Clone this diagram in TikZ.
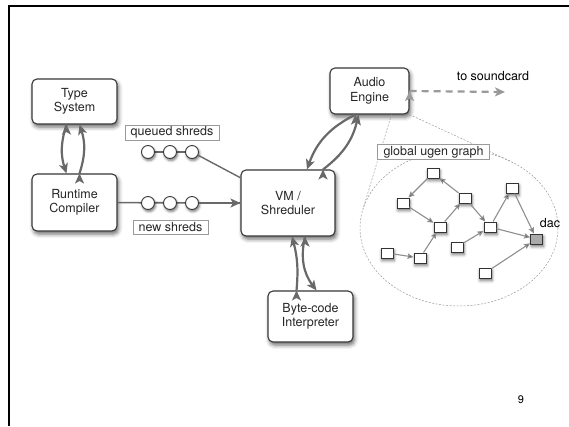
\documentclass[tikz,border=0pt]{standalone}
\usepackage{fontspec}
\setmainfont{TeX Gyre Heros}
\usetikzlibrary{arrows.meta,shadows.blur}

\definecolor{boxline}{HTML}{383838}
\definecolor{flowgray}{HTML}{696969}
\definecolor{ugengray}{HTML}{8E8E8E}
\definecolor{callgray}{HTML}{9A9A9A}
\definecolor{dacgray}{HTML}{AAAAAA}

\tikzset{
  unit/.style={draw=boxline, line width=1.1pt, fill=white, rounded corners=5pt,
    align=center, inner sep=0pt, text=black!85,
    blur shadow={shadow xshift=1.5pt, shadow yshift=-3pt, shadow opacity=60, shadow blur radius=4pt}},
  tag/.style={draw=callgray, line width=0.9pt, fill=white, inner sep=0pt, text=black!85},
  shred/.style={circle, draw=boxline, line width=0.9pt, fill=white, minimum size=13pt, inner sep=0pt,
    blur shadow={shadow xshift=1pt, shadow yshift=-2pt, shadow opacity=55, shadow blur radius=2.5pt}},
  ugen/.style={draw=black!80, line width=1pt, fill=white, minimum width=12pt, minimum height=10pt, inner sep=0pt,
    blur shadow={shadow xshift=1pt, shadow yshift=-2.5pt, shadow opacity=55, shadow blur radius=3pt}},
  flow/.style={draw=flowgray, line width=2.2pt, -{Stealth[length=10pt,width=9pt,inset=2.5pt]}},
  ugenflow/.style={draw=ugengray, line width=1.1pt, -{Stealth[length=6pt,width=5.5pt,inset=1pt]}},
  callout/.style={draw=callgray, line width=0.5pt, dash pattern=on 2pt off 1.5pt},
}

\begin{document}
\begin{tikzpicture}[x=1pt, y=-1pt, font=\fontsize{12.5}{14.5}\selectfont]
\useasboundingbox (0,0) rectangle (569,426);
% slide frame
\draw[line width=2.4pt] (8.7,426) -- (8.7,6.2) -- (569,6.2);

% main units
\node[unit, minimum width=85pt, minimum height=45pt] (ts) at (74.5,101.5) {Type\\System};
\node[unit, minimum width=85pt, minimum height=57pt] (rc) at (74.5,202.5) {Runtime\\Compiler};
\node[unit, minimum width=94pt, minimum height=66pt] (vm) at (288,203) {VM /\\Shreduler};
\node[unit, minimum width=79pt, minimum height=46pt] (ae) at (369.5,91) {Audio\\Engine};
\node[unit, minimum width=85pt, minimum height=51pt] (bc) at (310.5,316.5) {Byte-code\\Interpreter};

% global ugen graph
\draw[callout] (459,228) ellipse [x radius=99, y radius=78];
\coordinate (tanl) at (363,209);
\coordinate (tanr) at (510,161);
\draw[callout] ([xshift=22pt]ae.south) -- (tanl);
\draw[callout] (ae.south east) -- (tanr);
\node[tag, minimum width=112pt, minimum height=15pt] (ugl) at (433.5,152) {global ugen graph};

\begin{scope}[every node/.style={ugen}]
  \node (g1) at (433,173) {};
  \node (g2) at (403,203) {};
  \node (g3) at (465,198) {};
  \node (g4) at (440,227) {};
  \node (g5) at (512,188) {};
  \node (g6) at (490,227) {};
  \node (g7) at (387,253) {};
  \node (g8) at (420,258) {};
  \node (g9) at (457,247) {};
  \node (g10) at (485,273) {};
  \node[fill=dacgray] (dac) at (536.5,239) {};
\end{scope}
\node (dacl) at (550,223) {dac};
\path [ugenflow] (g1) edge (g2);
\path [ugenflow] (g3) edge (g1);
\path [ugenflow] (g2) edge (g4);
\path [ugenflow] (g4) edge (g3);
\path [ugenflow] (g3) edge (g6);
\path [ugenflow] (g6) edge (g5);
\path [ugenflow] (g5) edge (dac);
\path [ugenflow] (g6) edge (dac);
\path [ugenflow] (g9) edge (g6);
\path [ugenflow] (g7) edge (g8);
\path [ugenflow] (g8) edge (g4);
\path [ugenflow] (g10) edge (dac);

% shreds
\node[tag, minimum width=94pt, minimum height=15pt] (ql) at (172,132.5) {queued shreds};
\node[tag, minimum width=75pt, minimum height=14pt] (nl) at (170.5,227) {new shreds};
\path [draw=flowgray, line width=1.6pt] (rc) -- (vm.west);
\draw[flowgray, line width=1.4pt] (148,152) -- (192,152);
\begin{scope}[every node/.style={shred}]
  \node (q1) at (148,152) {};
  \node (q2) at (170,152) {};
  \node (q3) at (192,152) {};
  \node (s1) at (148,203) {};
  \node (s2) at (170,203) {};
  \node (s3) at (192,203) {};
\end{scope}
\path [draw=flowgray, line width=1.4pt] (q3) -- (vm);
\path [flow] (s3) edge (vm);

% arrows between units
\path [flow] ([xshift=-8pt]ts.south) edge[bend right=18] ([xshift=-8pt]rc.north);
\path [flow] ([xshift=5pt]rc.north) edge[bend right=18] ([xshift=5pt]ts.south);
\path [flow] ([xshift=-14pt]ae.south) edge[bend right=22] ([xshift=19pt]vm.north);
\path [flow] ([xshift=35pt]vm.north) edge[bend right=20] ([xshift=-11pt]ae.south);
\path [flow] ([xshift=-14pt]bc.north) edge[bend right=10] ([xshift=4pt]vm.south);
\path [flow] ([xshift=17pt]vm.south) edge[bend right=25] ([xshift=6pt]bc.north);

% output
\node (snd) at (493,76) {to soundcard};
\coordinate (sndend) at (505,92);
\path [flow, draw=callgray, dash pattern=on 7pt off 5pt] (ae.east) edge (sndend);

% page number
\node[font=\fontsize{11}{13}\selectfont] (pg) at (521,400) {9};
\end{tikzpicture}
\end{document}
